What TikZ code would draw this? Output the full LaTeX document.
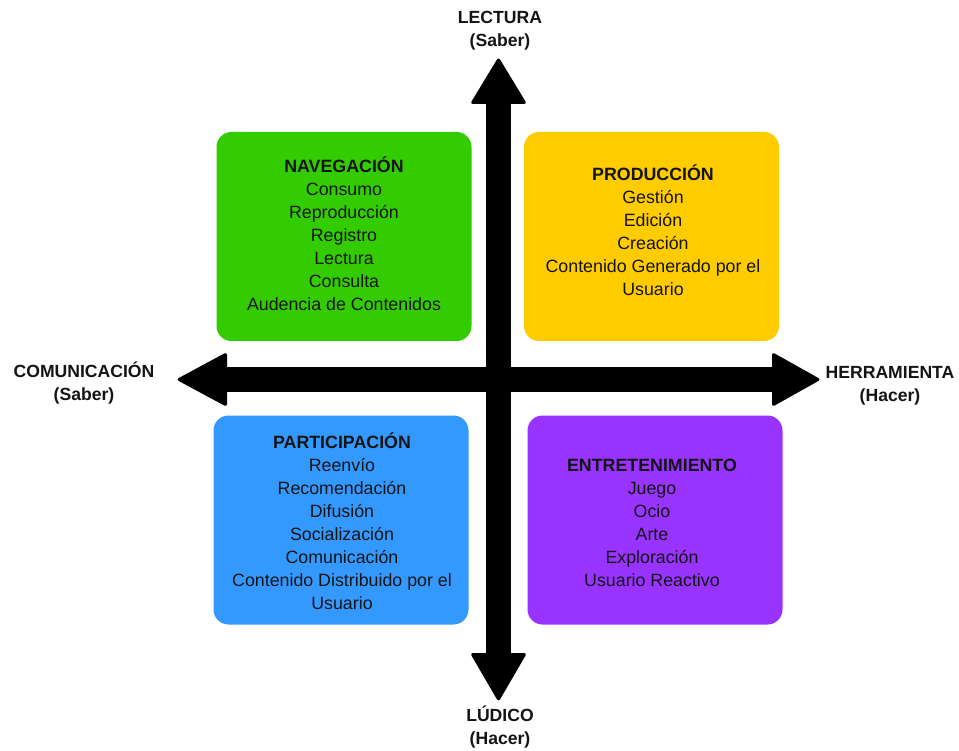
\documentclass[tikz,border=0pt]{standalone}
\usepackage{fontspec}
\setmainfont{Liberation Sans}
\definecolor{cgreen}{HTML}{33CC00}
\definecolor{cyellow}{HTML}{FFCC00}
\definecolor{cblue}{HTML}{3399FF}
\definecolor{cpurple}{HTML}{9933FF}
\definecolor{ctext}{HTML}{141414}
\begin{document}
\begin{tikzpicture}[x=1pt,y=-1pt,
  quad/.style={rounded corners=15pt, draw=none, inner sep=0pt, minimum width=255pt, minimum height=209pt},
  body/.style={align=center, text=ctext, inner sep=0pt, font=\fontsize{17.8}{23}\selectfont},
  axislabel/.style={align=center, text=ctext, inner sep=0pt, font=\bfseries\fontsize{17.6}{23}\selectfont},
  headtip/.style={fill=black, rounded corners=3pt},
  shaft/.style={draw=black, line width=25pt}]
\useasboundingbox (0,0) rectangle (959,751);
\fill[white] (0,0) rectangle (959,751);

% quadrant boxes
\node[quad, fill=cgreen]  (nav)  at (344,236.5) {};
\node[quad, fill=cyellow] (prod) at (651.5,236.5) {};
\node[quad, fill=cblue]   (part) at (341,520) {};
\node[quad, fill=cpurple] (entr) at (655,520) {};

% axes
\coordinate (vt) at (498.5,57);
\coordinate (vb) at (498.5,702);
\coordinate (hl) at (176,379.5);
\coordinate (hr) at (821,379.5);
\draw[shaft] (498.5,100) -- (498.5,657);
\draw[shaft] (222,379.5) -- (776,379.5);
\fill[headtip] (vt) -- (527,104) -- (470,104) -- cycle;
\fill[headtip] (vb) -- (470,653) -- (527,653) -- cycle;
\fill[headtip] (hl) -- (227,352) -- (227,407) -- cycle;
\fill[headtip] (hr) -- (772,407) -- (772,352) -- cycle;

% axis labels
\node[axislabel] (lect) at (500,31) {LECTURA\\(Saber)};
\node[axislabel] (ludi) at (500,727.5) {LÚDICO\\(Hacer)};
\node[axislabel] (comu) at (84,383) {COMUNICACIÓN\\(Saber)};
\node[axislabel] (herr) at (890,386) {HERRAMIENTA\\(Hacer)};

% box texts
\node[body] (navt) at (344,234) {\textbf{NAVEGACIÓN}\\Consumo\\Reproducción\\Registro\\Lectura\\Consulta\\Audencia de Contenidos};
\node[body] (prodt) at (653,230) {\textbf{PRODUCCIÓN}\\Gestión\\Edición\\Creación\\Contenido Generado por el\\Usuario};
\node[body] (partt) at (342,521.5) {\textbf{PARTICIPACIÓN}\\Reenvío\\Recomendación\\Difusión\\Socialización\\Comunicación\\Contenido Distribuido por el\\Usuario};
\node[body] (entrt) at (652,522.5) {\textbf{ENTRETENIMIENTO}\\Juego\\Ocio\\Arte\\Exploración\\Usuario Reactivo};
\end{tikzpicture}
\end{document}
